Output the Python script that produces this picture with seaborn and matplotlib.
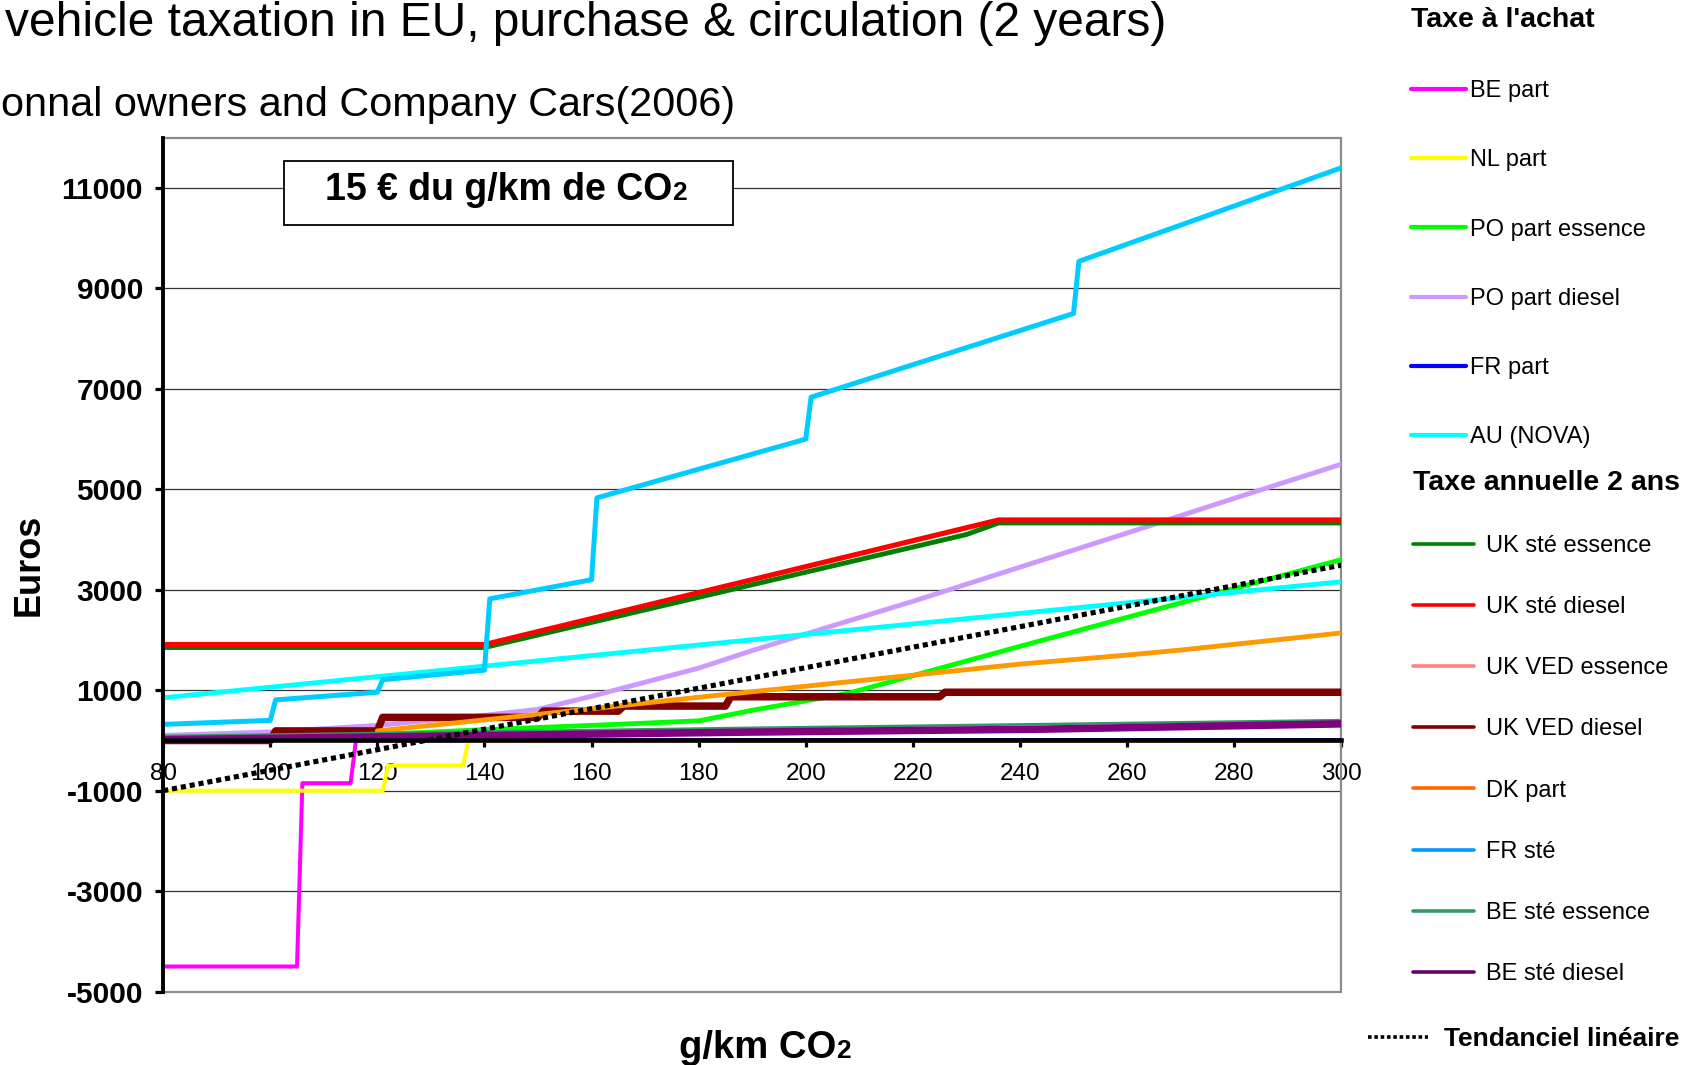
import matplotlib
matplotlib.use("Agg")
import matplotlib.pyplot as plt
from matplotlib.lines import Line2D
from matplotlib.patches import Rectangle
import seaborn as sns

sns.set_style("white")
plt.rcParams["font.family"] = ["Liberation Sans", "DejaVu Sans"]
plt.rcParams.update({"text.color": "black", "axes.labelcolor": "black",
                     "xtick.color": "black", "ytick.color": "black"})

# --- tax amounts (EUR) against emissions (g/km CO2) ---------------------
be_part_x = [80, 105, 106, 115, 116, 300]
be_part_y = [-4500, -4500, -850, -850, 0, 0]

nl_part_x = [80, 121, 122, 136, 137, 300]
nl_part_y = [-1000, -1000, -500, -500, 0, 0]

po_ess_x = [120, 140, 160, 180, 190, 208, 244, 300]
po_ess_y = [120, 215, 300, 390, 600, 940, 1990, 3600]

po_die_x = [80, 100, 120, 140, 150, 160, 180, 190, 200, 220, 240, 260, 280, 300]
po_die_y = [100, 170, 300, 500, 620, 880, 1440, 1790, 2120, 2770, 3450, 4130, 4820, 5500]

fr_part_x = [80, 300]
fr_part_y = [0, 0]

au_nova_x = [80, 300]
au_nova_y = [850, 3160]

uk_ste_ess_x = [80, 140, 230, 236, 300]
uk_ste_ess_y = [1850, 1850, 4100, 4330, 4330]

uk_ste_die_x = [80, 140, 236, 300]
uk_ste_die_y = [1910, 1910, 4390, 4390]

uk_ved_x = [80, 100, 101, 120, 121, 150, 151, 165, 166, 185, 186, 225, 226, 300]
uk_ved_ess_y = [0, 0, 190, 190, 440, 440, 570, 570, 680, 680, 860, 860, 950, 950]
uk_ved_die_y = [0, 0, 190, 190, 460, 460, 585, 585, 685, 685, 870, 870, 960, 960]

dk_part_x = [120, 140, 160, 180, 200, 220, 240, 260, 270, 300]
dk_part_y = [190, 410, 630, 860, 1080, 1300, 1520, 1700, 1800, 2140]

fr_ste_x = [80, 100, 101, 120, 121, 140, 141, 160, 161, 200, 201, 250, 251, 300]
fr_ste_y = [320, 400, 808, 960, 1210, 1400, 2820, 3200, 4830, 6000, 6834, 8500, 9538, 11400]

be_ste_ess_x = [80, 188, 244, 300]
be_ste_ess_y = [90, 250, 326, 406]

be_ste_die_x = [80, 188, 244, 300]
be_ste_die_y = [15, 165, 225, 330]

trend_x = [80, 300]
trend_y = [-1000, 3490]

x_ticks = list(range(80, 301, 20))
y_ticks = list(range(-5000, 11001, 2000))

purchase_labels = ["BE part", "NL part", "PO part essence", "PO part diesel",
                   "FR part", "AU (NOVA)"]
annual_labels = ["UK sté essence", "UK sté diesel", "UK VED essence", "UK VED diesel",
                 "DK part", "FR sté", "BE sté essence", "BE sté diesel"]

# --- figure ---------------------------------------------------------------
fig = plt.figure(figsize=(17.03, 10.65), dpi=100)
ax = fig.add_axes([0.0958, 0.0689, 0.6918, 0.8018])

DOT = (0, (1.0, 0.75))
series = [
    (be_part_x, be_part_y, "#FF00FF", 2.9, "-"),
    (nl_part_x, nl_part_y, "#FFFF00", 2.9, "-"),
    (po_ess_x, po_ess_y, "#00FF00", 3.5, "-"),
    (po_die_x, po_die_y, "#CC99FF", 3.5, "-"),
    (fr_part_x, fr_part_y, "#0000FF", 2.9, "-"),
    (au_nova_x, au_nova_y, "#00FFFF", 3.5, "-"),
    (uk_ste_ess_x, uk_ste_ess_y, "#008000", 3.5, "-"),
    (uk_ste_die_x, uk_ste_die_y, "#FF0000", 3.7, "-"),
    (uk_ved_x, uk_ved_ess_y, "#FF8080", 3.9, "-"),
    (uk_ved_x, uk_ved_die_y, "#800000", 5.4, "-"),
    (dk_part_x, dk_part_y, "#FF9900", 3.5, "-"),
    (fr_ste_x, fr_ste_y, "#00CCFF", 3.6, "-"),
    (be_ste_ess_x, be_ste_ess_y, "#339966", 1.8, "-"),
    (be_ste_die_x, be_ste_die_y, "#800080", 5.4, "-"),
]
for xs, ys, col, lw, ls in series:
    sns.lineplot(x=xs, y=ys, ax=ax, color=col, linewidth=lw, linestyle=ls,
                 sort=False, estimator=None, legend=False)
sns.lineplot(x=trend_x, y=trend_y, ax=ax, color="black", linewidth=3.7,
             linestyle=DOT, sort=False, estimator=None, legend=False, zorder=3)

ax.set_xlim(80, 300)
ax.set_ylim(-5000, 12000)
ax.set_xticks(x_ticks)
ax.set_yticks(y_ticks)
ax.set_xticklabels([str(v) for v in x_ticks])
ax.set_yticklabels([str(v) for v in y_ticks], fontweight="bold")
ax.set_xlabel("")
ax.set_ylabel("")

ax.set_axisbelow(True)
ax.yaxis.grid(True, color="#333333", linewidth=0.9)
ax.xaxis.grid(False)

for side in ("top", "right"):
    ax.spines[side].set_visible(False)
ax.spines["left"].set_color("black")
ax.spines["left"].set_linewidth(2.8)
ax.spines["bottom"].set_position(("data", 0))
ax.spines["bottom"].set_color("black")
ax.spines["bottom"].set_linewidth(3.3)
ax.add_patch(Rectangle((0, 0), 1, 1, transform=ax.transAxes, fill=False,
                       edgecolor="#8c8c8c", linewidth=1.6, zorder=0.6, clip_on=False))

ax.tick_params(axis="y", direction="out", length=5.5, width=2.3, labelsize=21.5,
               pad=9, left=True, color="black")
ax.tick_params(axis="x", direction="out", length=5, width=2.3, labelsize=17.5,
               pad=11, bottom=True, color="black")

# boxed note
ax.add_patch(Rectangle((0.103, 0.898), 0.3807, 0.075, transform=ax.transAxes,
                       facecolor="white", edgecolor="black", linewidth=1.3, zorder=4))
note = ax.text(0.285, 0.939, "15 € du g/km de CO", transform=ax.transAxes,
               ha="center", va="center", fontsize=27, fontweight="bold", zorder=5)
ax.annotate("2", xy=(1, 0), xycoords=note, xytext=(0, 2), textcoords="offset points",
            ha="left", va="bottom", fontsize=19, fontweight="bold", zorder=5)

# titles
fig.text(0.0032, 1 - 36 / 1065, "vehicle taxation in EU, purchase & circulation (2 years)",
         ha="left", va="baseline", fontsize=34.5)
fig.text(0.0005, 1 - 116 / 1065, "onnal owners and Company Cars(2006)",
         ha="left", va="baseline", fontsize=29.8)

# axis titles
fig.text(0.0172, 0.4695, "Euros", rotation=90, ha="center", va="center",
         fontsize=26, fontweight="bold")
xl = fig.text(0.445, 0.0065, "g/km CO", ha="center", va="baseline",
              fontsize=27.5, fontweight="bold")
ax.annotate("2", xy=(1, 0), xycoords=xl, xytext=(0, 2), textcoords="offset points",
            ha="left", va="bottom", fontsize=19, fontweight="bold", annotation_clip=False)

# legends
purchase_colors = ["#FF00FF", "#FFFF00", "#00FF00", "#CC99FF", "#0000FF", "#00FFFF"]
annual_colors = ["#008000", "#FF0000", "#FF8080", "#800000", "#FF6600", "#0099FF",
                 "#339966", "#660066"]

h1 = [Line2D([], [], color=c, lw=3.0) for c in purchase_colors]
fig.legend(h1, purchase_labels, title="Taxe à l'achat", loc="upper left",
           bbox_to_anchor=(0.8288, 0.9935), frameon=False, fontsize=17,
           title_fontproperties={"weight": "bold", "size": 20.5},
           alignment="left", handlelength=2.3, handletextpad=0.2,
           labelspacing=2.0, borderpad=0, borderaxespad=0)

h2 = [Line2D([], [], color=c, lw=2.6) for c in annual_colors]
fig.legend(h2, annual_labels, title="Taxe annuelle 2 ans", loc="upper left",
           bbox_to_anchor=(0.8295, 0.559), frameon=False, fontsize=17,
           title_fontproperties={"weight": "bold", "size": 20.5},
           alignment="left", handlelength=2.6, handletextpad=0.5,
           labelspacing=1.66, borderpad=0, borderaxespad=0)

h3 = [Line2D([], [], color="black", lw=2.6, linestyle=DOT)]
fig.legend(h3, ["Tendanciel linéaire"], loc="center left",
           bbox_to_anchor=(0.803, 0.024), frameon=False,
           prop={"weight": "bold", "size": 19}, handlelength=2.3,
           handletextpad=0.6, borderpad=0, borderaxespad=0)

fig.savefig("out.png", dpi=100)
